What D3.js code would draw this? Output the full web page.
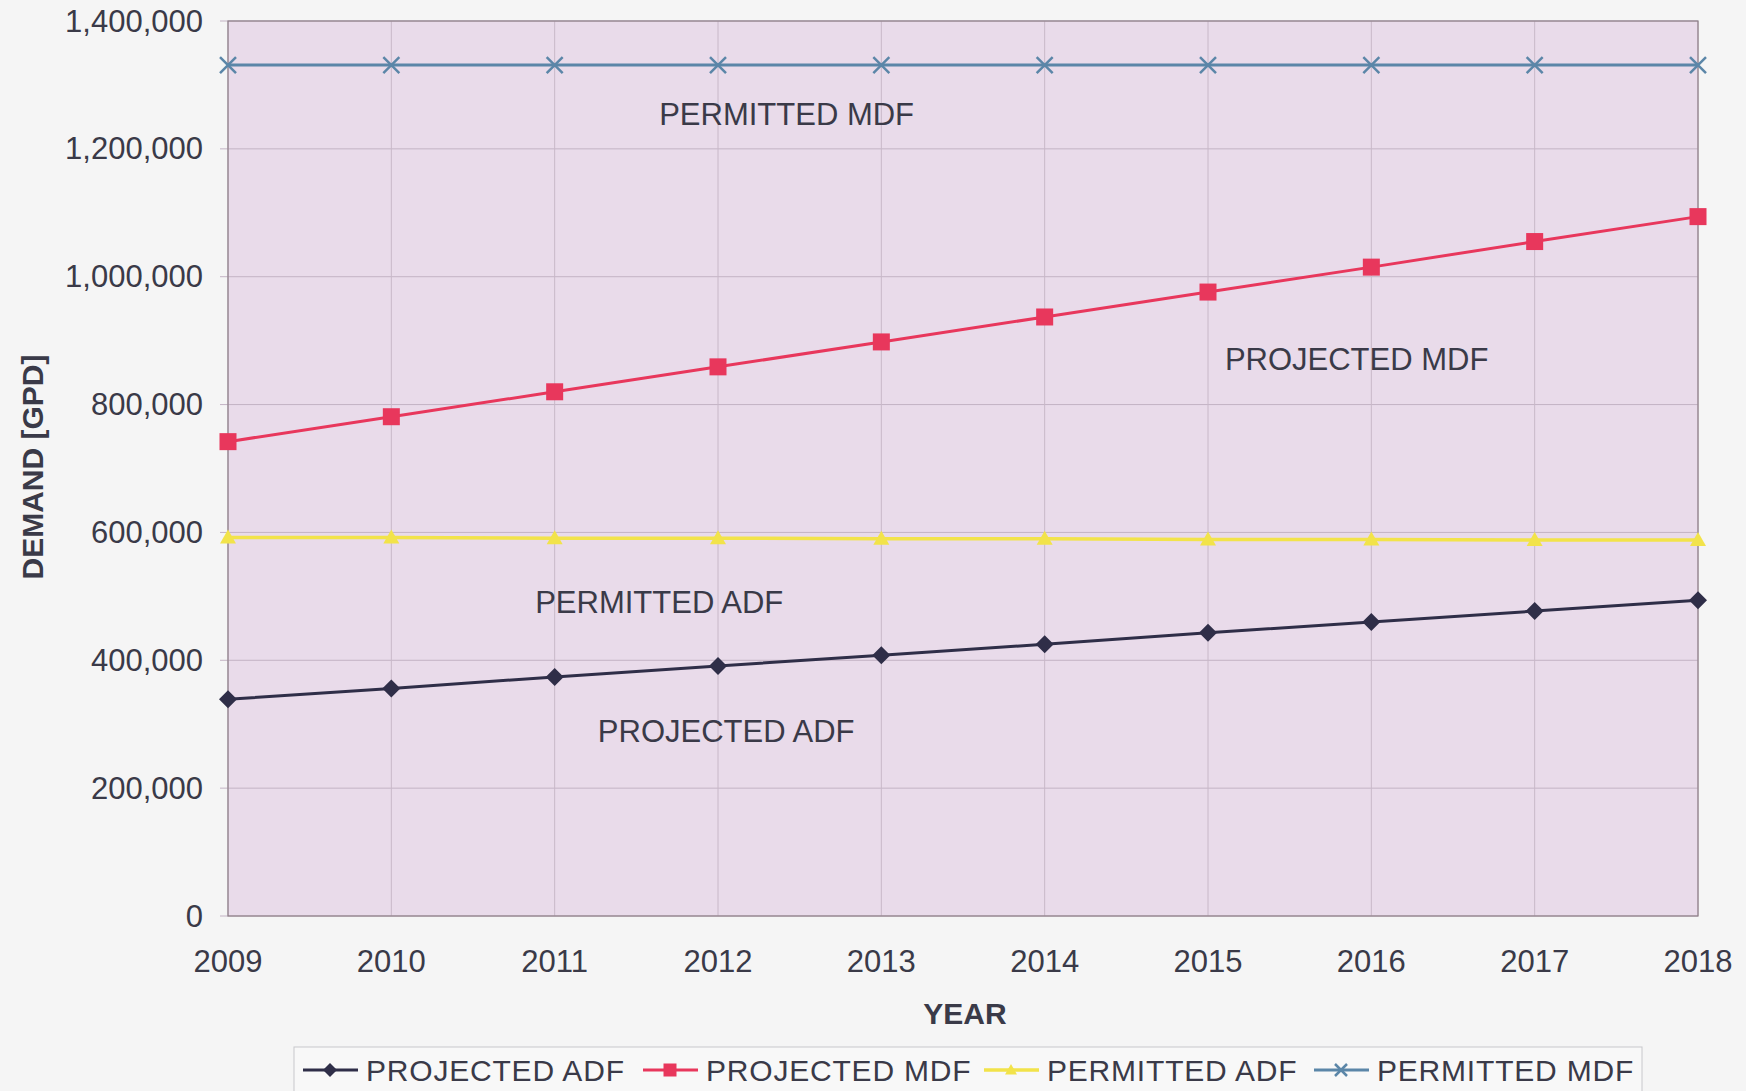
<!DOCTYPE html>
<html lang="en">
<head>
<meta charset="utf-8">
<title>Demand projection</title>
<script src="https://cdn.jsdelivr.net/npm/d3@7"></script>
<style>
  body { margin: 0; background: #f5f5f5; }
  svg text { font-family: "Liberation Sans", Arial, sans-serif; fill: #3a3a48; }
</style>
</head>
<body>
<script>
// data
var years = [2009, 2010, 2011, 2012, 2013, 2014, 2015, 2016, 2017, 2018];
var projectedADF = [339000, 356000, 374000, 391000, 408000, 425000, 443000, 460000, 477000, 494000];
var projectedMDF = [742000, 781000, 820000, 859000, 898000, 937000, 976000, 1015000, 1055000, 1094000];
var permittedADF = [592000, 592000, 591000, 591000, 590000, 590000, 589000, 589000, 588000, 588000];
var permittedMDF = [1331000, 1331000, 1331000, 1331000, 1331000, 1331000, 1331000, 1331000, 1331000, 1331000];
var yTicks = [0, 200000, 400000, 600000, 800000, 1000000, 1200000, 1400000];
var seriesNames = ["PROJECTED ADF", "PROJECTED MDF", "PERMITTED ADF", "PERMITTED MDF"];
// in-plot labels (year, value)
var notes = [
  {text: "PERMITTED MDF", x: 2012.42, y: 1254000},
  {text: "PROJECTED MDF", x: 2015.91, y: 870000},
  {text: "PERMITTED ADF", x: 2011.64, y: 491000},
  {text: "PROJECTED ADF", x: 2012.05, y: 288000}
];

var W = 1746, H = 1091;
var pLeft = 228, pRight = 1698, pTop = 21, pBottom = 916;

var series = [
  {name: seriesNames[0], values: projectedADF, color: "#2f2e48", marker: "diamond", lw: 3},
  {name: seriesNames[1], values: projectedMDF, color: "#e8375c", marker: "square", lw: 3},
  {name: seriesNames[2], values: permittedADF, color: "#f2e34a", marker: "triangle", lw: 3.5},
  {name: seriesNames[3], values: permittedMDF, color: "#5b86a8", marker: "x", lw: 3}
];

var svg = d3.select("body").append("svg")
  .attr("width", W).attr("height", H);

var x = d3.scaleLinear().domain([2009, 2018]).range([pLeft, pRight]);
var y = d3.scaleLinear().domain([0, 1400000]).range([pBottom, pTop]);

// plot background
svg.append("rect")
  .attr("x", pLeft).attr("y", pTop)
  .attr("width", pRight - pLeft).attr("height", pBottom - pTop)
  .attr("fill", "#e9dbea");

// gridlines
svg.append("g").selectAll("line").data(yTicks).enter().append("line")
  .attr("x1", pLeft - 8).attr("x2", pRight)
  .attr("y1", d => y(d)).attr("y2", d => y(d))
  .attr("stroke", "#c3b3c4").attr("stroke-width", 1);
svg.append("g").selectAll("line").data(years).enter().append("line")
  .attr("x1", d => x(d)).attr("x2", d => x(d))
  .attr("y1", pTop).attr("y2", pBottom)
  .attr("stroke", "#c8b8c8").attr("stroke-width", 1);

// border
svg.append("rect")
  .attr("x", pLeft).attr("y", pTop)
  .attr("width", pRight - pLeft).attr("height", pBottom - pTop)
  .attr("fill", "none").attr("stroke", "#8e7f88").attr("stroke-width", 1.2);

// y axis labels
var fmt = d3.format(",");
svg.append("g").selectAll("text").data(yTicks).enter().append("text")
  .attr("x", 203).attr("y", d => y(d))
  .attr("text-anchor", "end").attr("dominant-baseline", "central")
  .style("font-size", "31px")
  .text(d => fmt(d));

// x axis labels
svg.append("g").selectAll("text").data(years).enter().append("text")
  .attr("x", d => x(d)).attr("y", 961)
  .attr("text-anchor", "middle").attr("dominant-baseline", "central")
  .style("font-size", "31px")
  .text(d => d);

// axis titles
svg.append("text")
  .attr("transform", "translate(32,467) rotate(-90)")
  .attr("text-anchor", "middle").attr("dominant-baseline", "central")
  .style("font-size", "30px").style("font-weight", "bold")
  .text("DEMAND [GPD]");
svg.append("text")
  .attr("x", 965).attr("y", 1013)
  .attr("text-anchor", "middle").attr("dominant-baseline", "central")
  .style("font-size", "30px").style("font-weight", "bold")
  .text("YEAR");

function drawMarker(g, type, color, cx, cy, s) {
  if (type == "diamond") {
    g.append("path")
      .attr("d", "M" + cx + "," + (cy - s) + "L" + (cx + s) + "," + cy + "L" + cx + "," + (cy + s) + "L" + (cx - s) + "," + cy + "Z")
      .attr("fill", color);
  } else if (type == "square") {
    g.append("rect").attr("x", cx - s).attr("y", cy - s)
      .attr("width", 2 * s).attr("height", 2 * s).attr("fill", color);
  } else if (type == "triangle") {
    g.append("path")
      .attr("d", "M" + cx + "," + (cy - s) + "L" + (cx + s) + "," + (cy + s * 0.75) + "L" + (cx - s) + "," + (cy + s * 0.75) + "Z")
      .attr("fill", color);
  } else {
    g.append("path")
      .attr("d", "M" + (cx - s) + "," + (cy - s) + "L" + (cx + s) + "," + (cy + s) + "M" + (cx - s) + "," + (cy + s) + "L" + (cx + s) + "," + (cy - s))
      .attr("stroke", color).attr("stroke-width", 2.5).attr("fill", "none");
  }
}

var markerSize = {diamond: 9, square: 8.5, triangle: 8, x: 8};

// lines and markers
var line = d3.line().x((d, i) => x(years[i])).y(d => y(d));
series.forEach(function(s) {
  var g = svg.append("g");
  g.append("path").datum(s.values)
    .attr("d", line)
    .attr("fill", "none").attr("stroke", s.color).attr("stroke-width", s.lw);
  s.values.forEach(function(v, i) {
    drawMarker(g, s.marker, s.color, x(years[i]), y(v), markerSize[s.marker]);
  });
});

// in-plot labels
svg.append("g").selectAll("text").data(notes).enter().append("text")
  .attr("x", d => x(d.x)).attr("y", d => y(d.y))
  .attr("text-anchor", "middle").attr("dominant-baseline", "central")
  .style("font-size", "31px")
  .text(d => d.text);

// legend
var lg = svg.append("g");
lg.append("rect")
  .attr("x", 294).attr("y", 1047).attr("width", 1348).attr("height", 60)
  .attr("fill", "#f8f8f8").attr("stroke", "#c8c8cc").attr("stroke-width", 1);
var legendX = [303, 643, 984, 1314];
series.forEach(function(s, i) {
  var lx = legendX[i], ly = 1070;
  lg.append("line")
    .attr("x1", lx).attr("x2", lx + 55).attr("y1", ly).attr("y2", ly)
    .attr("stroke", s.color).attr("stroke-width", s.lw);
  drawMarker(lg, s.marker, s.color, lx + 27, ly, markerSize[s.marker] - 2);
  lg.append("text")
    .attr("x", lx + 63).attr("y", ly)
    .attr("dominant-baseline", "central")
    .style("font-size", "30px").style("letter-spacing", "0.8px")
    .text(s.name);
});
</script>
</body>
</html>
